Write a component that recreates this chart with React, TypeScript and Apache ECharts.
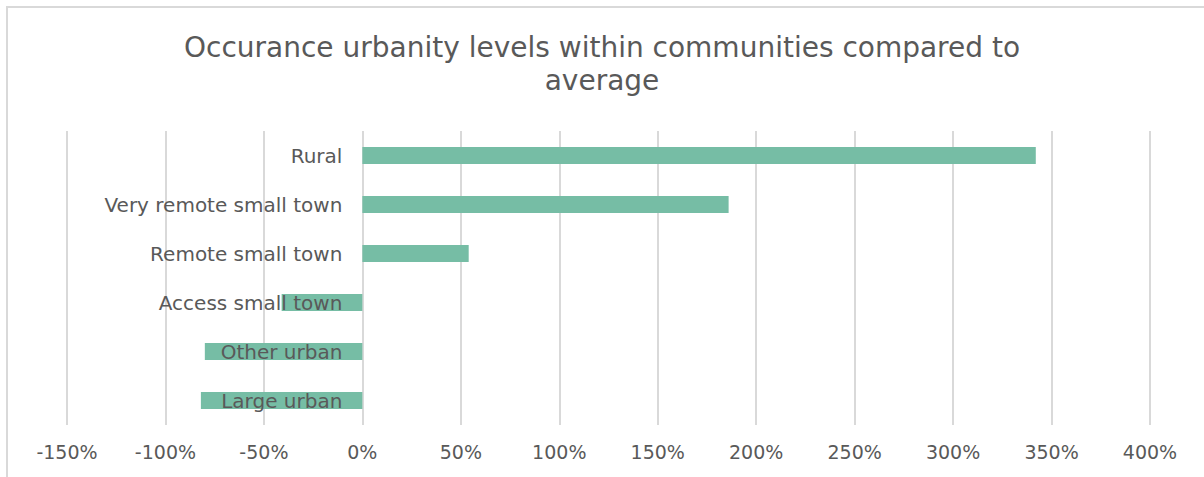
import React, { useEffect, useRef } from "react";
import * as echarts from "echarts";

const categories = [
  "Rural",
  "Very remote small town",
  "Remote small town",
  "Access small town",
  "Other urban",
  "Large urban",
];
const values = [342, 186, 54, -41, -80, -82];
const titleText = "Occurance urbanity levels within communities compared to\naverage";
const xMin = -150;
const xMax = 400;

export default function App() {
  const ref = useRef<HTMLDivElement>(null);
  useEffect(() => {
    if (!ref.current) return;
    const chart = echarts.init(ref.current, undefined, { renderer: "svg" });
    const font = "'DejaVu Sans', sans-serif";
    const gridLeft = 67;
    const gridRight = 54;
    const plotW = 1204 - gridLeft - gridRight;
    const zeroOffset = ((0 - xMin) / (xMax - xMin)) * plotW;
    chart.setOption({
      animation: false,
      backgroundColor: "transparent",
      title: {
        text: titleText,
        left: "center",
        top: 26,
        textStyle: {
          fontFamily: font,
          fontSize: 28,
          lineHeight: 33,
          fontWeight: 400,
          color: "#595959",
        },
      },
      grid: { left: gridLeft, right: gridRight, top: 131, bottom: 52, containLabel: false, outerBoundsMode: "none" },
      xAxis: {
        type: "value",
        min: xMin,
        max: xMax,
        interval: 50,
        axisLine: { show: false },
        axisTick: { show: false },
        splitLine: { show: true, lineStyle: { color: "#d9d9d9", width: 2 } },
        axisLabel: {
          formatter: (v: number) => `${v}%`,
          color: "#595959",
          fontFamily: font,
          fontSize: 19,
          margin: 17,
        },
      },
      yAxis: {
        type: "category",
        data: categories,
        inverse: true,
        z: 5,
        offset: -zeroOffset,
        axisLine: { show: false, onZero: false },
        axisTick: { show: false },
        axisLabel: {
          color: "#595959",
          fontFamily: font,
          fontSize: 20,
          margin: 20,
        },
      },
      series: [
        {
          type: "bar",
          data: values,
          barWidth: 17,
          itemStyle: { color: "#76bda5" },
          z: 2,
        },
      ],
    });
    return () => chart.dispose();
  }, []);
  return (
    <div style={{ position: "absolute", left: 0, top: 0, width: 1204, height: 477, background: "#fff", overflow: "hidden" }}>
      <div style={{ position: "absolute", left: 6, top: 6, width: 1300, height: 600, border: "2px solid #d9d9d9" }} />
      <div ref={ref} style={{ position: "absolute", left: 0, top: 0, width: 1204, height: 477 }} />
    </div>
  );
}
